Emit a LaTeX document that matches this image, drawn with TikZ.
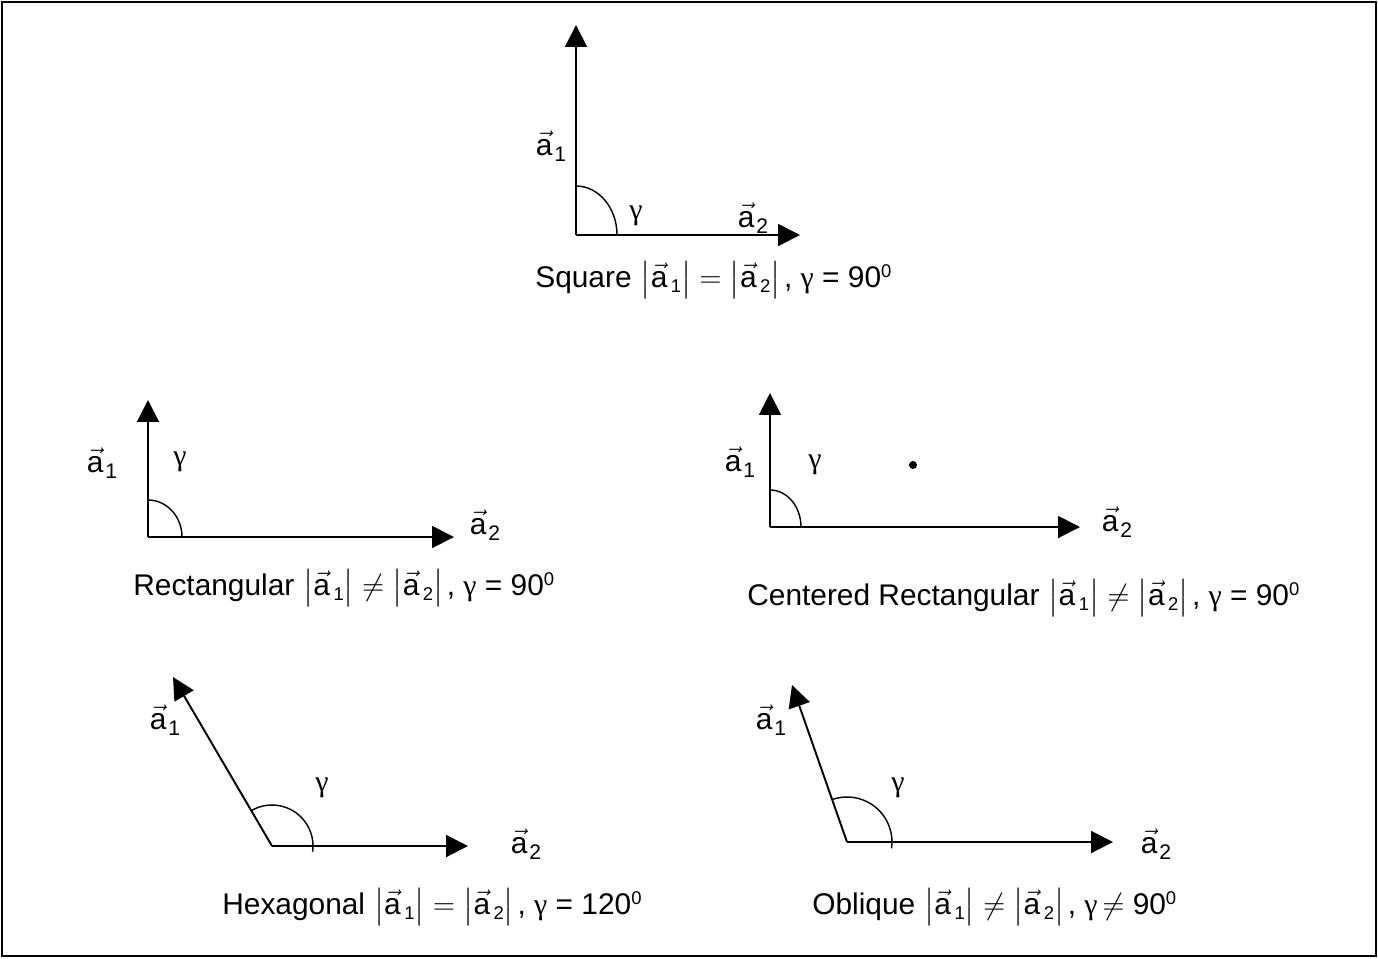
\documentclass[tikz,border=0pt]{standalone}
\usepackage{amsmath}
\usepackage{fontspec}
\setmainfont{Liberation Sans}
\newfontfamily\grfont{Liberation Serif}
\usetikzlibrary{arrows.meta}
\newcommand{\smallnum}[1]{{\fontsize{10.5}{10.5}\selectfont #1}}
\newcommand{\avec}[1]{$\vec{\text{a}}$\kern1pt\raisebox{-0.2em}{\fontsize{12}{12}\selectfont #1}}
\newcommand{\anorm}[1]{\left|\vec{\text{a}}\text{\kern2pt\raisebox{-0.15em}{\smallnum{#1}}}\right|}
\newcommand{\angval}[1]{#1\raisebox{0.35em}{\smallnum{0}}}
\newcommand{\gam}{{\grfont γ}}
\newcommand{\gap}{\hspace{0.3em}}

\begin{document}
\begin{tikzpicture}[
  x=0.02cm, y=0.02cm,
  font=\fontsize{17}{20}\selectfont,
  latvec/.style={-{Triangle[length=12.5pt,width=12.5pt]}, line width=1.1pt},
  angarc/.style={line width=0.8pt},
  lbl/.style={inner sep=0pt},
  capt/.style={inner sep=0pt, anchor=west}
]
\useasboundingbox (0,0) rectangle (1378,-958);
\draw[line width=0.7pt] (2,-2) rectangle (1376,-956);

% square
\coordinate (sqO) at (576,-235);
\coordinate (sqA1) at (576,-25);
\coordinate (sqA2) at (800,-235);
\draw[latvec] (sqO) -- (sqA1);
\draw[latvec] (sqO) -- (sqA2);
\draw[angarc] (sqO) ++(0,49) arc[start angle=90, end angle=0, x radius=41, y radius=49];
\node[lbl] (sqL1) at (551,-146) {\avec{1}};
\node[lbl] (sqG) at (636,-216) {\gam};
\node[lbl] (sqL2) at (753,-218) {\avec{2}};
\node[capt] (sqCap) at (535,-280) {Square\gap$\anorm{1} = \anorm{2}$\kern2pt, \gam{} = \angval{90}};

% rectangular
\coordinate (reO) at (148,-537);
\coordinate (reA1) at (148,-400);
\coordinate (reA2) at (454,-537);
\draw[latvec] (reO) -- (reA1);
\draw[latvec] (reO) -- (reA2);
\draw[angarc] (reO) ++(0,37) arc[start angle=90, end angle=0, x radius=34, y radius=37];
\node[lbl] (reL1) at (102,-463) {\avec{1}};
\node[lbl] (reG) at (180,-462) {\gam};
\node[lbl] (reL2) at (485,-525) {\avec{2}};
\node[capt] (reCap) at (133,-588) {Rectangular\gap$\anorm{1} \neq \anorm{2}$\kern2pt, \gam{} = \angval{90}};

% centered rectangular
\coordinate (ceO) at (770,-527);
\coordinate (ceA1) at (770,-393);
\coordinate (ceA2) at (1080,-527);
\draw[latvec] (ceO) -- (ceA1);
\draw[latvec] (ceO) -- (ceA2);
\draw[angarc] (ceO) ++(0,37) arc[start angle=90, end angle=0, x radius=31, y radius=37];
\fill (913,-465) circle[radius=4];
\node[lbl] (ceL1) at (740,-462) {\avec{1}};
\node[lbl] (ceG) at (815,-465) {\gam};
\node[lbl] (ceL2) at (1117,-522) {\avec{2}};
\node[capt] (ceCap) at (747,-598) {Centered Rectangular\gap$\anorm{1} \neq \anorm{2}$\kern2pt, \gam{} = \angval{90}};

% hexagonal
\coordinate (hxO) at (272,-846);
\coordinate (hxA1) at (173,-677);
\coordinate (hxA2) at (468,-846);
\draw[latvec] (hxO) -- (hxA1);
\draw[latvec] (hxO) -- (hxA2);
\draw[angarc] (hxO) ++(120.4:41) arc[start angle=120.4, end angle=-8, radius=41];
\node[lbl] (hxL1) at (165,-720) {\avec{1}};
\node[lbl] (hxG) at (322,-788) {\gam};
\node[lbl] (hxL2) at (526,-844) {\avec{2}};
\node[capt] (hxCap) at (222,-907) {Hexagonal\gap$\anorm{1} = \anorm{2}$\kern2pt, \gam{} = \angval{120}};

% oblique
\coordinate (obO) at (847,-842);
\coordinate (obA1) at (792,-685);
\coordinate (obA2) at (1113,-842);
\draw[latvec] (obO) -- (obA1);
\draw[latvec] (obO) -- (obA2);
\draw[angarc] (obO) ++(109.3:45) arc[start angle=109.3, end angle=-8, radius=45];
\node[lbl] (obL1) at (771,-720) {\avec{1}};
\node[lbl] (obG) at (898,-788) {\gam};
\node[lbl] (obL2) at (1156,-844) {\avec{2}};
\node[capt] (obCap) at (812,-907) {Oblique\gap$\anorm{1} \neq \anorm{2}$\kern2pt, \gam{}$\,\neq$ \angval{90}};
\end{tikzpicture}
\end{document}
